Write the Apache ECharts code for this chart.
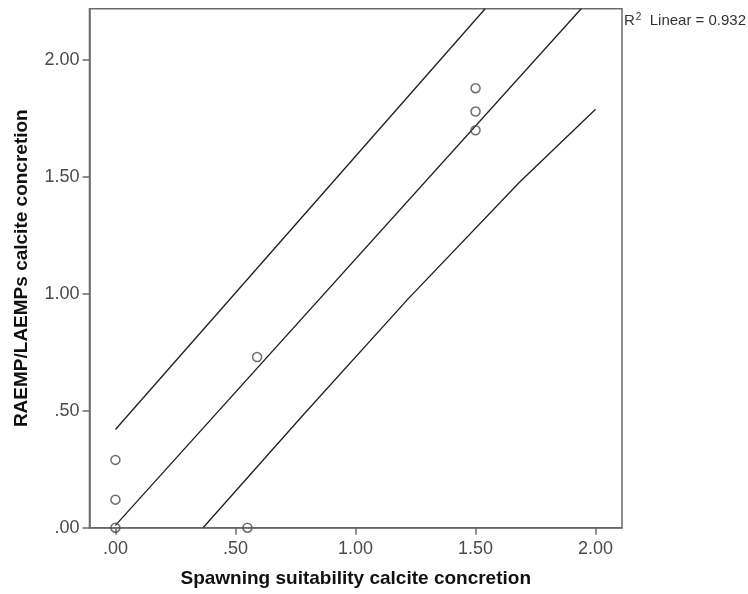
<!DOCTYPE html>
<html>
<head>
<meta charset="utf-8">
<script src="https://cdn.jsdelivr.net/npm/echarts@6/dist/echarts.min.js"></script>
<style>
  html, body { margin: 0; padding: 0; background: #fff; }
  #chart { width: 748px; height: 594px; }
</style>
</head>
<body>
<div id="chart"></div>
<script>
// Observed values: spawning suitability (x) vs RAEMP/LAEMPs score (y)
const suitability = [0, 0, 0, 0.55, 0.59, 1.50, 1.50, 1.50];
const concretion  = [0, 0.12, 0.29, 0, 0.73, 1.70, 1.78, 1.88];

// Linear fit and the individual prediction interval bounds
const fitX   = [0, 1.94];
const fitY   = [0.01, 2.22];
const upperX = [0, 1.54];
const upperY = [0.42, 2.22];
const lowerX = [0.365, 0.78, 1.22, 1.685, 2.00];
const lowerY = [0, 0.48, 0.98, 1.48, 1.79];

// Axis tick positions
const xTicks = [0, 0.5, 1.0, 1.5, 2.0];
const yTicks = [0, 0.5, 1.0, 1.5, 2.0];

const fitLabel = '0.932';

const FONT = '"Liberation Sans", Arial, sans-serif';
const AXIS_GRAY = '#6a6a6a';
const LABEL_GRAY = '#4a4a4a';

const zip = (xs, ys) => xs.map((x, i) => [x, ys[i]]);
// ".50", "1.00" style: drop the leading zero
const fmt = v => {
  const s = Number(v).toFixed(2);
  return s.startsWith('0.') ? s.slice(1) : s;
};

const chart = echarts.init(document.getElementById('chart'), null, { renderer: 'canvas' });

const lineStyle = { color: '#1e1e1e', width: 1.3 };

chart.setOption({
  animation: false,
  backgroundColor: '#fff',
  grid: {
    left: 89.5, right: 126, top: 8.7, bottom: 66.3,
    show: true, borderColor: AXIS_GRAY, borderWidth: 1.5, backgroundColor: '#fff'
  },
  xAxis: {
    type: 'value',
    min: -0.108, max: 2.11,
    name: 'Spawning suitability calcite concretion',
    nameLocation: 'middle',
    nameGap: 42,
    nameTextStyle: { fontFamily: FONT, fontSize: 19, fontWeight: 'bold', color: '#111' },
    axisLine: { show: true, onZero: false, lineStyle: { color: AXIS_GRAY, width: 1.5 } },
    axisTick: { show: true, length: 7, customValues: xTicks, lineStyle: { color: AXIS_GRAY, width: 1.5 } },
    axisLabel: { customValues: xTicks, formatter: fmt, margin: 12, fontFamily: FONT, fontSize: 18, color: LABEL_GRAY },
    splitLine: { show: false }
  },
  yAxis: {
    type: 'value',
    min: 0, max: 2.22,
    name: 'RAEMP/LAEMPs calcite concretion',
    nameLocation: 'middle',
    nameGap: 58,
    nameTextStyle: { fontFamily: FONT, fontSize: 19, fontWeight: 'bold', color: '#111' },
    axisLine: { show: true, onZero: false, lineStyle: { color: AXIS_GRAY, width: 1.5 } },
    axisTick: { show: true, length: 7, customValues: yTicks, lineStyle: { color: AXIS_GRAY, width: 1.5 } },
    axisLabel: { customValues: yTicks, formatter: fmt, margin: 10, fontFamily: FONT, fontSize: 18, color: LABEL_GRAY },
    splitLine: { show: false }
  },
  series: [
    { type: 'line', data: zip(upperX, upperY), showSymbol: false, lineStyle, z: 3 },
    { type: 'line', data: zip(fitX, fitY), showSymbol: false, lineStyle, z: 3 },
    { type: 'line', data: zip(lowerX, lowerY), showSymbol: false, lineStyle, z: 3 },
    {
      type: 'scatter',
      data: zip(suitability, concretion),
      symbol: 'circle',
      symbolSize: 9,
      itemStyle: { color: 'rgba(255,255,255,0)', borderColor: '#4a4a4a', borderWidth: 1.5 },
      z: 4
    }
  ],
  graphic: [{
    type: 'text',
    left: 624, top: 12,
    style: {
      text: '{a|R}{s|2}{a|  Linear = ' + fitLabel + '}',
      rich: {
        a: { fontFamily: FONT, fontSize: 15, fill: '#333', verticalAlign: 'bottom' },
        s: { fontFamily: FONT, fontSize: 10, fill: '#333', verticalAlign: 'top', padding: [0, 0, 6, 1] }
      }
    }
  }]
});
</script>
</body>
</html>
